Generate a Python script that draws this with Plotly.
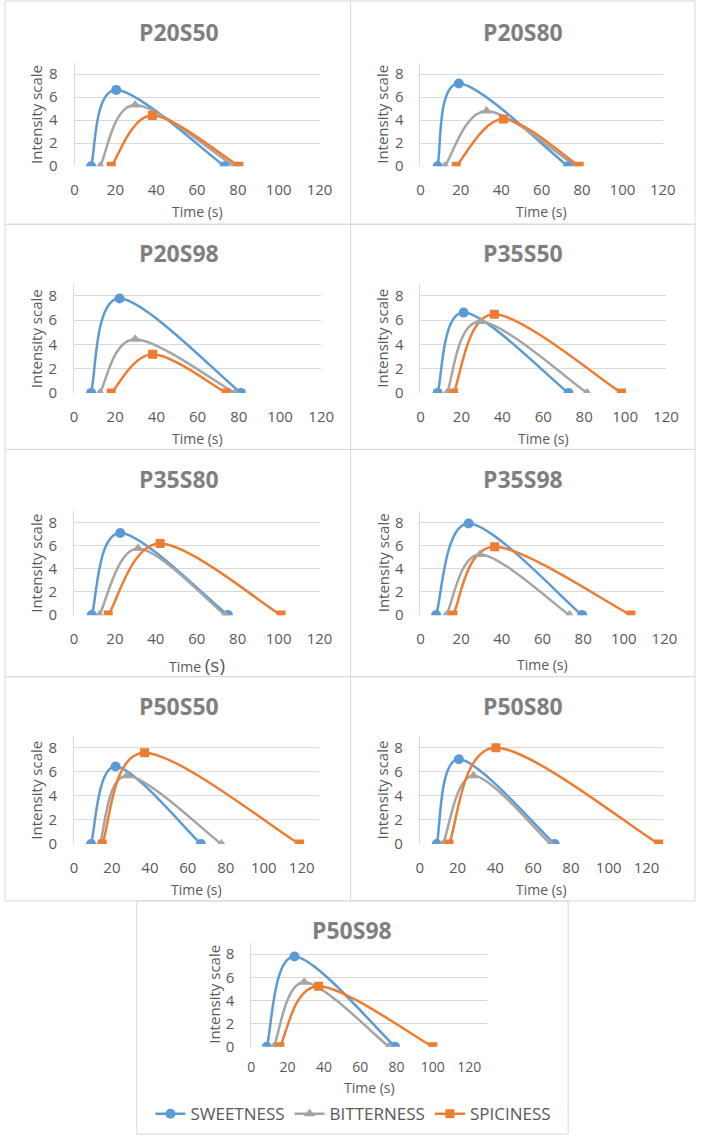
import plotly.graph_objects as go

# ---------------- data ----------------
titles = ["P20S50", "P20S80", "P20S98", "P35S50", "P35S80", "P35S98", "P50S50", "P50S80", "P50S98"]

sweet_t = [[8.1, 20.4, 73.5], [8.5, 19.0, 73.0], [8.3, 22.1, 81.0], [8.4, 21.1, 72.3], [8.7, 22.6, 75.2],
           [7.7, 23.7, 79.5], [9.0, 21.9, 66.9], [9.0, 20.7, 71.4], [8.6, 23.8, 79.2]]
sweet_i = [[0, 6.63, 0], [0, 7.19, 0], [0, 7.78, 0], [0, 6.62, 0], [0, 7.08, 0],
           [0, 7.9, 0], [0, 6.44, 0], [0, 7.04, 0], [0, 7.8, 0]]

bitter_t = [[12.6, 29.7, 78.1], [12.1, 32.7, 77.0], [12.6, 29.7, 78.0], [13.0, 29.1, 81.4], [12.4, 31.3, 73.9],
            [12.8, 29.3, 73.3], [13.7, 27.9, 77.7], [12.4, 28.4, 69.2], [12.5, 29.2, 75.8]]
bitter_i = [[0, 5.32, 0], [0, 4.8, 0], [0, 4.43, 0], [0, 5.89, 0], [0, 5.74, 0],
            [0, 5.23, 0], [0, 5.67, 0], [0, 5.67, 0], [0, 5.57, 0]]

spicy_t = [[18.0, 38.1, 80.5], [17.7, 41.1, 78.6], [18.1, 38.2, 73.9], [16.2, 36.1, 98.2], [16.7, 42.1, 101.2],
           [16.0, 36.5, 103.5], [14.9, 37.2, 118.8], [15.5, 40.3, 126.5], [15.8, 37.1, 100.0]]
spicy_i = [[0, 4.4, 0], [0, 4.09, 0], [0, 3.19, 0], [0, 6.48, 0], [0, 6.17, 0],
           [0, 5.88, 0], [0, 7.59, 0], [0, 8.0, 0], [0, 5.23, 0]]

series_names = ["SWEETNESS", "BITTERNESS", "SPICINESS"]
x_ticks = [0, 20, 40, 60, 80, 100, 120]
y_ticks = [0, 2, 4, 6, 8]

# ---------------- layout geometry (pixels) ----------------
W, H = 709, 1145
# plot area: left, right, top, bottom, x max
geom = [
    (72.3, 323.3, 63.1, 167.5, 120), (426.7, 675.0, 63.1, 167.5, 120),
    (71.7, 325.0, 286.0, 396.0, 120), (426.7, 678.3, 286.0, 396.0, 120),
    (71.7, 323.3, 514.7, 620.0, 120), (426.7, 676.7, 514.7, 620.0, 120),
    (71.7, 322.5, 741.5, 850.7, 129), (426.0, 675.7, 741.5, 850.7, 129),
    (253.3, 495.2, 950.0, 1055.0, 130),
]
title_pos = [(179, 32), (532, 32), (179, 255), (532, 255), (179, 483), (532, 483),
             (179, 712), (532, 712), (357, 937)]
xtitle_y = [213, 213, 442, 442, 670, 670, 897, 897, 1096]
xlab_standoff = [13, 13, 13, 13, 13, 13, 13, 13, 10]
xlab_size = [15, 15, 15, 15, 15, 15, 15, 15, 14]
panels = [(1, 355, 1, 226), (355, 708, 1, 226), (1, 355, 226, 453), (355, 708, 226, 453),
          (1, 355, 453, 682), (355, 708, 453, 682), (1, 355, 682, 908), (355, 708, 682, 908),
          (136, 578, 908, 1143)]

colors = ["#5B9BD5", "#A5A5A5", "#ED7D31"]
symbols = ["circle", "triangle-up", "square"]
msizes = [10, 10, 9]
GRID = "#D9D9D9"
TXT = "#595959"
FONT = "Open Sans"
LW = 2.5


def fx(px):
    return px / W


def fy(py):
    return 1 - py / H


def smooth_path(ts, vs):
    """Excel-style smoothed line: cubic Bezier segments whose control points
    follow the Catmull-Rom rule (1/6 of the neighbour chord)."""
    pts = list(zip(ts, vs))
    n = len(pts)
    path = "M {},{}".format(pts[0][0], pts[0][1])
    for i in range(n - 1):
        pp = pts[i - 1] if i > 0 else pts[i]
        p0, p1 = pts[i], pts[i + 1]
        pn = pts[i + 2] if i + 2 < n else pts[i + 1]
        c1 = (p0[0] + (p1[0] - pp[0]) / 6, p0[1] + (p1[1] - pp[1]) / 6)
        c2 = (p1[0] - (pn[0] - p0[0]) / 6, p1[1] - (pn[1] - p0[1]) / 6)
        path += " C {:.4f},{:.4f} {:.4f},{:.4f} {},{}".format(c1[0], c1[1], c2[0], c2[1], p1[0], p1[1])
    return path


fig = go.Figure()
annotations = []
shapes = []

for k in range(9):
    xl, xr, yt, yb, xmax = geom[k]
    n = "" if k == 0 else str(k + 1)
    xa, ya = "x" + n, "y" + n
    data = [(sweet_t[k], sweet_i[k]), (bitter_t[k], bitter_i[k]), (spicy_t[k], spicy_i[k])]
    for s, (tt, ii) in enumerate(data):
        # smoothed connecting line, drawn on the subplot's own axes
        shapes.append(dict(type="path", xref=xa, yref=ya, path=smooth_path(tt, ii),
                           line=dict(color=colors[s], width=LW), layer="between"))
        fig.add_trace(go.Scatter(
            x=tt, y=ii, xaxis=xa, yaxis=ya, mode="markers",
            name=series_names[s], legendgroup=series_names[s], showlegend=False,
            marker=dict(color=colors[s], symbol=symbols[s], size=msizes[s], line=dict(width=0)),
        ))
    fig.layout["xaxis" + n] = dict(
        domain=[fx(xl), fx(xr)], anchor=ya, range=[0, xmax], tickvals=x_ticks,
        showgrid=False, zeroline=False, showline=False, ticks="",
        tickfont=dict(family=FONT, size=xlab_size[k], color=TXT), ticklabelstandoff=xlab_standoff[k],
        fixedrange=True,
    )
    fig.layout["yaxis" + n] = dict(
        domain=[fy(yb), fy(yt)], anchor=xa, range=[0, 9], tickvals=y_ticks,
        showgrid=True, gridcolor=GRID, gridwidth=1, zeroline=False,
        showline=True, linecolor=GRID, linewidth=1, ticks="",
        tickfont=dict(family=FONT, size=15, color=TXT), ticklabelstandoff=13, fixedrange=True,
    )
    # panel border
    x0, x1, y0, y1 = panels[k]
    shapes.append(dict(type="rect", xref="paper", yref="paper", x0=fx(x0), x1=fx(x1), y0=fy(y1), y1=fy(y0),
                       line=dict(color=GRID, width=1), fillcolor="rgba(0,0,0,0)", layer="below"))
    # titles
    tx, ty = title_pos[k]
    annotations.append(dict(text="<b>" + titles[k] + "</b>", x=fx(tx), y=fy(ty), xref="paper", yref="paper",
                            showarrow=False, xanchor="center", yanchor="middle",
                            font=dict(family=FONT, size=23, color="#7F7F7F")))
    # axis titles
    xtxt = "Time (s)" if k != 4 else "Time <span style='font-size:19px'>(s)</span>"
    annotations.append(dict(text=xtxt, x=fx((xl + xr) / 2), y=fy(xtitle_y[k]), xref="paper", yref="paper",
                            showarrow=False, xanchor="center", yanchor="middle",
                            font=dict(family=FONT, size=14, color=TXT)))
    annotations.append(dict(text="Intensity scale", x=fx(xl - 39), y=fy((yt + yb) / 2), xref="paper",
                            yref="paper", showarrow=False, xanchor="center", yanchor="middle", textangle=-90,
                            font=dict(family=FONT, size=15, color=TXT)))

# legend entries (line + marker, like the reference legend)
for s in range(3):
    fig.add_trace(go.Scatter(
        x=[None], y=[None], mode="lines+markers", name=series_names[s], legendgroup=series_names[s],
        showlegend=True, line=dict(color=colors[s], width=LW),
        marker=dict(color=colors[s], symbol=symbols[s], size=msizes[s], line=dict(width=0)),
    ))

fig.update_layout(
    width=W, height=H, margin=dict(l=0, r=0, t=0, b=0),
    paper_bgcolor="white", plot_bgcolor="white",
    shapes=shapes, annotations=annotations,
    showlegend=True,
    legend=dict(orientation="h", x=fx(358), xanchor="center", y=fy(1123), yanchor="middle",
                font=dict(family=FONT, size=17, color=TXT), bgcolor="rgba(0,0,0,0)",
                itemwidth=30, tracegroupgap=0),
)

fig.write_html("out.html")
